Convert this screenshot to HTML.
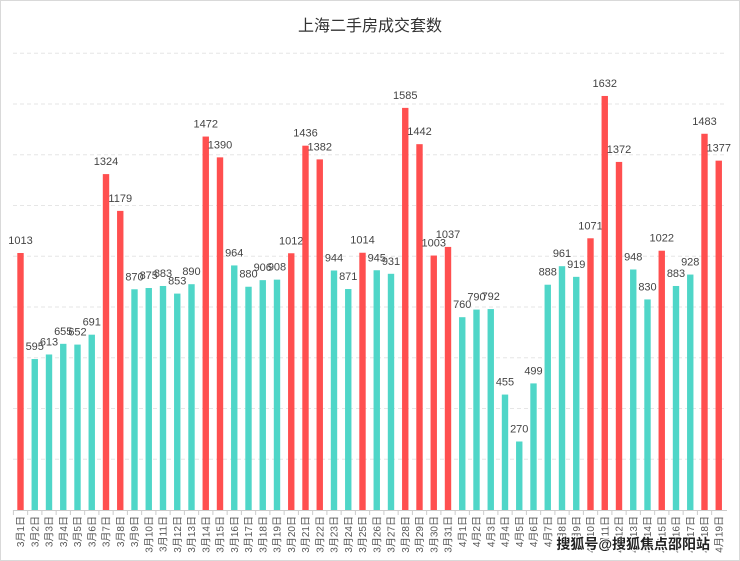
<!DOCTYPE html>
<html><head><meta charset="utf-8"><style>
html,body{margin:0;padding:0;background:#fff}
svg{display:block}
text{font-family:"Liberation Sans","Noto Sans CJK SC",sans-serif}
</style></head><body>
<svg id="c" width="740" height="561" xmlns="http://www.w3.org/2000/svg">
<rect x="0.5" y="0.5" width="739" height="560" fill="#fff" stroke="#d9d9d9"/>
<text x="370" y="31" text-anchor="middle" font-size="16" fill="#333">上海二手房成交套数</text>
<g id="g"></g>
</svg>
<script>
var v=[1013,595,613,655,652,691,1324,1179,870,875,883,853,890,1472,1390,964,880,906,908,1012,1436,1382,944,871,1014,945,931,1585,1442,1003,1037,760,790,792,455,270,499,888,961,919,1071,1632,1372,948,830,1022,883,928,1483,1377];
var s='';
for(var k=1;k<=9;k++){var y=510-k*50.75;s+='<line x1="13" x2="727" y1="'+y+'" y2="'+y+'" stroke="#e6e6e6" stroke-dasharray="4,3"/>';}
s+='<line x1="13" x2="727" y1="510.5" y2="510.5" stroke="#ccc"/>';
for(var i=0;i<50;i++){
 var x=20.5+i*14.25,h=v[i]*0.2537,y=510-h,c=v[i]>1000?'#ff4f4f':'#4fd6c8';
 s+='<rect x="'+(x-3.2)+'" y="'+y+'" width="6.4" height="'+h+'" fill="'+c+'"/>';
 s+='<text x="'+x+'" y="'+(y-9)+'" text-anchor="middle" font-size="11" fill="#444">'+v[i]+'</text>';
 s+='<line x1="'+(x-7.1)+'" x2="'+(x-7.1)+'" y1="510" y2="515" stroke="#ccc"/>';
 var lb=i<31?('3月'+(i+1)+'日'):('4月'+(i-30)+'日');
 s+='<text transform="translate('+(x+3.5)+',516) rotate(-90)" text-anchor="end" font-size="10" fill="#555">'+lb+'</text>';
}
s+='<text x="710" y="549" text-anchor="end" font-size="14" font-weight="bold" fill="#222" stroke="#fff" stroke-width="2.5" paint-order="stroke">搜狐号@搜狐焦点邵阳站</text>';
document.getElementById('g').innerHTML=s;
</script>
</body></html>
